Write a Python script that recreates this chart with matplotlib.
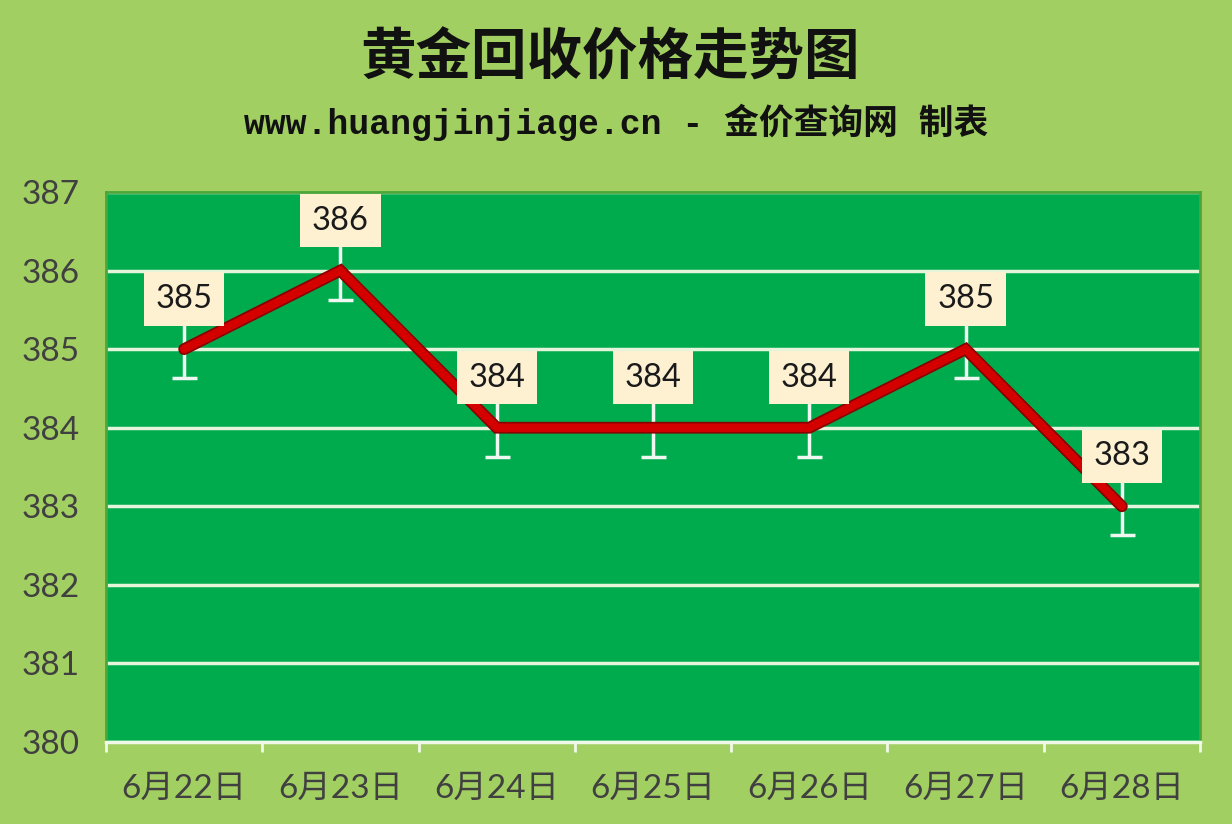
import matplotlib
matplotlib.use("Agg")
import matplotlib.pyplot as plt

dates = ["6月22日", "6月23日", "6月24日", "6月25日", "6月26日", "6月27日", "6月28日"]
prices = [385, 386, 384, 384, 384, 385, 383]
yticks = [380, 381, 382, 383, 384, 385, 386, 387]
err = 0.37
title = "黄金回收价格走势图"
subtitle = "www.huangjinjiage.cn - 金价查询网 制表"

BG = "#A2CF62"
PLOT = "#00AB4E"
plt.rcParams['font.family'] = ['Lato', 'Noto Sans CJK SC', 'DejaVu Sans']

fig = plt.figure(figsize=(12.32, 8.24), dpi=100, facecolor=BG)
ax = fig.add_axes([106/1232, 1-742/824, (1200-106)/1232, (742-192)/824])
ax.set_facecolor(PLOT)

x = list(range(len(dates)))
ax.set_xlim(-0.5, len(dates)-0.5)
ax.set_ylim(380, 387)
ax.set_yticks(yticks)
ax.set_yticklabels([str(v) for v in yticks], color="#404040", fontsize=24,
                   family=['Lato', 'DejaVu Sans'])
ax.set_xticks(x)
ax.set_xticklabels(dates, color="#404040", fontsize=24,
                   family=['Lato', 'Noto Sans CJK SC'])
ax.set_xticks([i - 0.5 for i in range(len(dates)+1)], minor=True)
ax.tick_params(axis='x', which='major', length=0, pad=23)
ax.tick_params(axis='x', which='minor', length=7, width=2, color="#F0F8EA", direction='out')
ax.tick_params(axis='y', length=0, pad=19)

ax.grid(axis='y', color="#E6F4DC", linewidth=2.5, zorder=1)
ax.set_axisbelow(True)
for s in ['top', 'right', 'left']:
    ax.spines[s].set_color("#4CA63A")
    ax.spines[s].set_linewidth(2)
ax.spines['bottom'].set_color("#F0F8EA")
ax.spines['bottom'].set_linewidth(2.5)

ax.errorbar(x, prices, yerr=err, fmt='none', ecolor="#EEF8F0", elinewidth=2.5,
            capsize=9, capthick=2.5, zorder=3)
ax.plot(x, prices, color="#8B0000", linewidth=8.5, solid_capstyle='round',
        solid_joinstyle='miter', zorder=4)
ax.plot(x, prices, color="#D40000", linewidth=6, solid_capstyle='round',
        solid_joinstyle='miter', zorder=4.1)

for xi, p in zip(x, prices):
    ax.annotate(str(p), (xi, p), xytext=(0, 50), textcoords='offset pixels',
                ha='center', va='center', fontsize=23.5, color="#1A1A1A",
                family=['Lato', 'DejaVu Sans'], zorder=6,
                bbox=dict(boxstyle='square,pad=0.36', fc="#FDF1D2", ec='none'))

fig.text(0.5 - 6/1232, 1-58/824, title, ha='center', va='center', fontsize=40,
         fontweight='bold', family=['Noto Sans CJK SC'], color="#111111")
fig.text(0.5, 1-122/824, subtitle, ha='center', va='center', fontsize=25,
         fontweight='bold', family=['Liberation Mono', 'Noto Sans CJK SC'], color="#111111")

fig.savefig("out.png", dpi=100, facecolor=BG)
